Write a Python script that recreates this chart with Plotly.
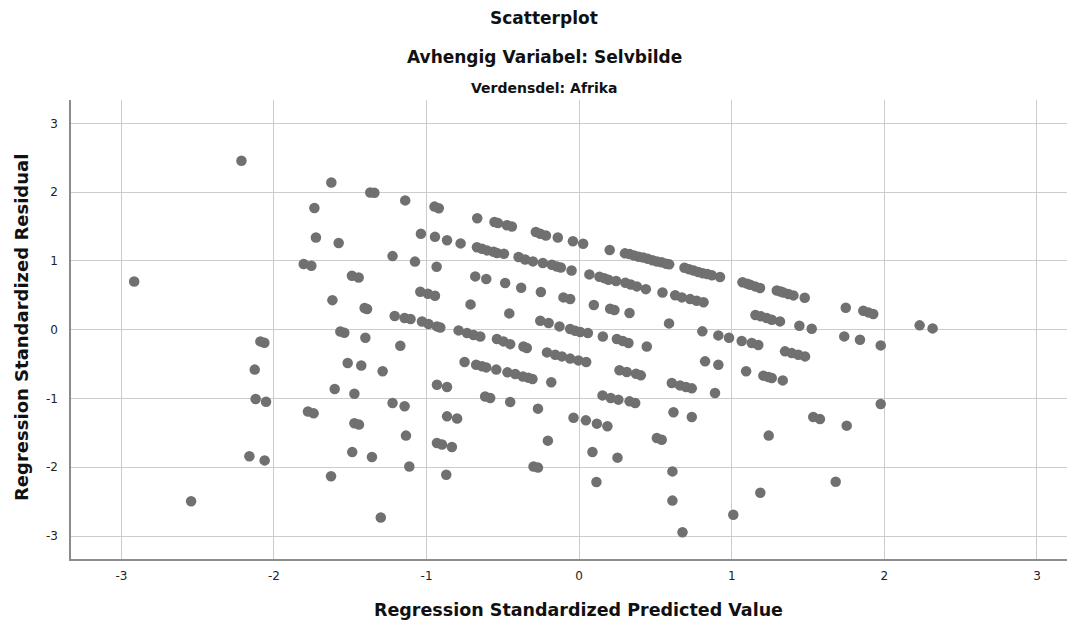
import plotly.graph_objects as go

# Regression standardized predicted value (x) and residual (y)
pred = [
    -2.916, -2.543, -2.213, -2.161, -2.126, -2.12, -2.089, -2.063, -2.061, -2.052,
    -1.805, -1.777, -1.755, -1.74, -1.735, -1.725, -1.626, -1.624, -1.617, -1.602,
    -1.576, -1.565, -1.539, -1.517, -1.489, -1.487, -1.473, -1.473, -1.445, -1.443,
    -1.428, -1.406, -1.401, -1.39, -1.369, -1.358, -1.342, -1.30, -1.288, -1.223,
    -1.223, -1.209, -1.172, -1.144, -1.14, -1.144, -1.135, -1.113, -1.105, -1.076,
    -1.041, -1.037, -1.03, -0.991, -0.987, -0.948, -0.945, -0.945, -0.934, -0.932,
    -0.932, -0.932, -0.92, -0.91, -0.899, -0.871, -0.866, -0.866, -0.866, -0.834,
    -0.80, -0.79, -0.777, -0.751, -0.735, -0.712, -0.692, -0.681, -0.675, -0.67,
    -0.668, -0.648, -0.637, -0.637, -0.616, -0.609, -0.609, -0.604, -0.583, -0.561,
    -0.555, -0.543, -0.539, -0.539, -0.532, -0.496, -0.493, -0.485, -0.474, -0.47,
    -0.458, -0.452, -0.452, -0.441, -0.419, -0.397, -0.38, -0.369, -0.365, -0.354,
    -0.343, -0.332, -0.306, -0.303, -0.299, -0.284, -0.27, -0.27, -0.255, -0.255,
    -0.251, -0.238, -0.218, -0.211, -0.205, -0.20, -0.183, -0.179, -0.157, -0.146,
    -0.14, -0.129, -0.12, -0.113, -0.103, -0.059, -0.059, -0.059, -0.05, -0.041,
    -0.037, -0.026, -0.005, 0.007, 0.026, 0.044, 0.046, 0.057, 0.067, 0.087,
    0.096, 0.113, 0.116, 0.133, 0.153, 0.155, 0.164, 0.185, 0.192, 0.20,
    0.203, 0.207, 0.231, 0.242, 0.247, 0.251, 0.257, 0.264, 0.286, 0.303,
    0.312, 0.323, 0.33, 0.33, 0.338, 0.367, 0.373, 0.378, 0.404, 0.437,
    0.443, 0.509, 0.541, 0.546, 0.589, 0.607, 0.611, 0.611, 0.618, 0.629,
    0.661, 0.673, 0.677, 0.70, 0.727, 0.738, 0.738, 0.77, 0.807, 0.815,
    0.825, 0.89, 0.912, 0.912, 0.923, 0.982, 1.01,
    1.07, 1.10, 1.12, 1.153, 1.185, 1.295, 1.32, 1.338, 1.371, 1.404,
    1.478, 1.155, 1.19, 1.229, 1.262, 1.316, 1.443, 1.524, 1.747, 1.862,
    1.895, 1.927, 2.231, 2.316, 1.065, 1.131, 1.174, 1.349, 1.393, 1.436,
    1.48, 1.094, 1.207, 1.24, 1.262, 1.334, 1.737, 1.84, 1.976, 1.976,
    1.534, 1.578, 1.753, 1.242, 1.681, 1.187,
    0.30, 0.33, 0.36, 0.39, 0.42, 0.45, 0.48, 0.51, 0.54, 0.57, 0.59,
    0.69, 0.72, 0.75, 0.78, 0.81, 0.84, 0.87,
]
resid = [
    0.70, -2.495, 2.456, -1.84, -0.58, -1.008, -0.17, -0.19, -1.90, -1.047,
    0.955, -1.19, 0.93, -1.216, 1.77, 1.34, -2.13, 2.14, 0.43, -0.862,
    1.26, -0.025, -0.045, -0.485, 0.785, -1.78, -0.93, -1.36, 0.76, -1.38,
    -0.52, 0.315, -0.116, 0.30, 1.995, -1.85, 1.99, -2.73, -0.605, 1.07,
    -1.066, 0.20, -0.233, 0.17, 1.88, -1.114, -1.54, -1.99, 0.155, 0.99,
    0.552, 1.395, 0.12, 0.523, 0.083, 1.79, 1.35, 0.494, 0.915, 0.048,
    -0.80, -1.647, 1.765, 0.033, -1.67, -2.11, 1.30, -0.833, -1.26, -1.705,
    -1.29, -0.01, 1.255, -0.47, -0.048, 0.368, -0.077, 0.775, -0.51, 1.20,
    1.62, -0.10, 1.177, -0.533, -0.97, 0.737, -0.548, 1.153, -0.993, 1.134,
    1.565, -0.58, 1.115, -0.135, 1.55, -0.17, 1.105, 0.68, 1.52, -0.62,
    0.237, -0.21, -1.05, 1.50, -0.645, 1.057, 0.61, -0.68, -0.243, 1.022,
    -0.266, -0.70, -0.717, 0.993, -1.99, 1.42, -1.148, -2.005, 1.395, 0.13,
    0.548, 0.97, 1.37, -0.33, -1.613, 0.097, -0.765, 0.945, -0.363, 0.92,
    1.34, 0.048, 0.905, -0.388, 0.47, 0.446, 0.01, -0.42, 0.862, 1.285,
    -1.28, -0.015, -0.446, -0.033, 1.25, -1.318, -0.47, -0.048, 0.804, -1.778,
    0.36, -2.215, -1.366, 0.77, -0.955, -0.10, 0.75, -1.405, 0.727, 1.158,
    0.305, -0.993, 0.286, 0.707, -0.135, -1.86, -1.017, -0.59, -0.164, 0.683,
    -0.615, -0.193, 0.243, -1.042, 0.658, -1.066, -0.64, 0.63, -0.664, 0.59,
    -0.243, -1.575, -1.60, 0.54, 0.092, -0.775, -2.06, -2.485, -1.20, 0.50,
    -0.81, 0.47, -2.946, -0.833, 0.445, -0.853, -1.27, 0.42, -0.024, 0.40,
    -0.46, -0.92, -0.51, -0.083, 0.766, -0.116, -2.69,
    0.69, 0.67, 0.654, 0.63, 0.606, 0.571, 0.555, 0.542, 0.519, 0.499,
    0.465, 0.214, 0.195, 0.17, 0.145, 0.121, 0.058, 0.015, 0.32, 0.276,
    0.252, 0.228, 0.063, 0.019, -0.165, -0.193, -0.223, -0.315, -0.34, -0.363,
    -0.388, -0.605, -0.668, -0.687, -0.702, -0.737, -0.097, -0.145, -0.228, -1.08,
    -1.27, -1.30, -1.395, -1.54, -2.21, -2.37,
    1.11, 1.10, 1.08, 1.06, 1.05, 1.03, 1.01, 0.99, 0.98, 0.96, 0.95,
    0.90, 0.88, 0.86, 0.84, 0.82, 0.81, 0.79,
]
tick_vals = [-3, -2, -1, 0, 1, 2, 3]
tick_text = ["-3", "-2", "-1", "0", "1", "2", "3"]

FONT = "DejaVu Sans, Verdana, sans-serif"
OFF = 8                      # default page body margin
W, H = 1075 - OFF, 631 - OFF
# plot area in page pixels: left 71, right 1073, top 100, bottom 559
ML = 71 - OFF
MT = 100 - OFF
MR = W - (1073 - OFF)
MB = H - (559 - OFF)
PW, PH = W - ML - MR, H - MT - MB


def px(xp):
    return (xp - OFF - ML) / PW


def py(yp):
    return 1 - (yp - OFF - MT) / PH


fig = go.Figure(go.Scatter(
    x=pred, y=resid, mode="markers",
    marker=dict(size=10.5, color="rgb(112,112,112)", line=dict(width=0)),
    hoverinfo="skip",
))

axis_common = dict(
    showgrid=True, gridcolor="rgb(204,204,204)", gridwidth=1,
    zeroline=False, showline=True, linecolor="rgb(140,140,140)", linewidth=1.5,
    tickmode="array", tickvals=tick_vals, ticktext=tick_text,
    tickfont=dict(family=FONT, size=12, color="#222"),
    ticks="", fixedrange=True,
)
fig.update_xaxes(range=[-3.33, 3.236], ticklabelstandoff=5, **axis_common)
fig.update_yaxes(range=[-3.334, 3.34], ticklabelstandoff=9, **axis_common)

anns = [
    dict(text="<b>Scatterplot</b>", x=544, y=18, size=17),
    dict(text="<b>Avhengig Variabel: Selvbilde</b>", x=544, y=57, size=17),
    dict(text="<b>Verdensdel: Afrika</b>", x=544, y=88, size=14),
    dict(text="<b>Regression Standardized Predicted Value</b>", x=578, y=610, size=17.5),
]
annotations = []
for a in anns:
    annotations.append(dict(
        text=a["text"], xref="paper", x=px(a["x"]), xanchor="center",
        yref="paper", y=py(a["y"]), yanchor="middle",
        showarrow=False, font=dict(family=FONT, size=a["size"], color="#111"),
    ))
annotations.append(dict(
    text="<b>Regression Standardized Residual</b>", xref="paper",
    x=px(21), xanchor="center",
    yref="paper", y=py(328), yanchor="middle",
    textangle=-90, showarrow=False, font=dict(family=FONT, size=18, color="#111"),
))

fig.update_layout(
    width=W, height=H,
    margin=dict(l=ML, r=MR, t=MT, b=MB, pad=0),
    paper_bgcolor="white", plot_bgcolor="white",
    showlegend=False, annotations=annotations,
)

fig.write_html("out.html", config={"displayModeBar": False})
